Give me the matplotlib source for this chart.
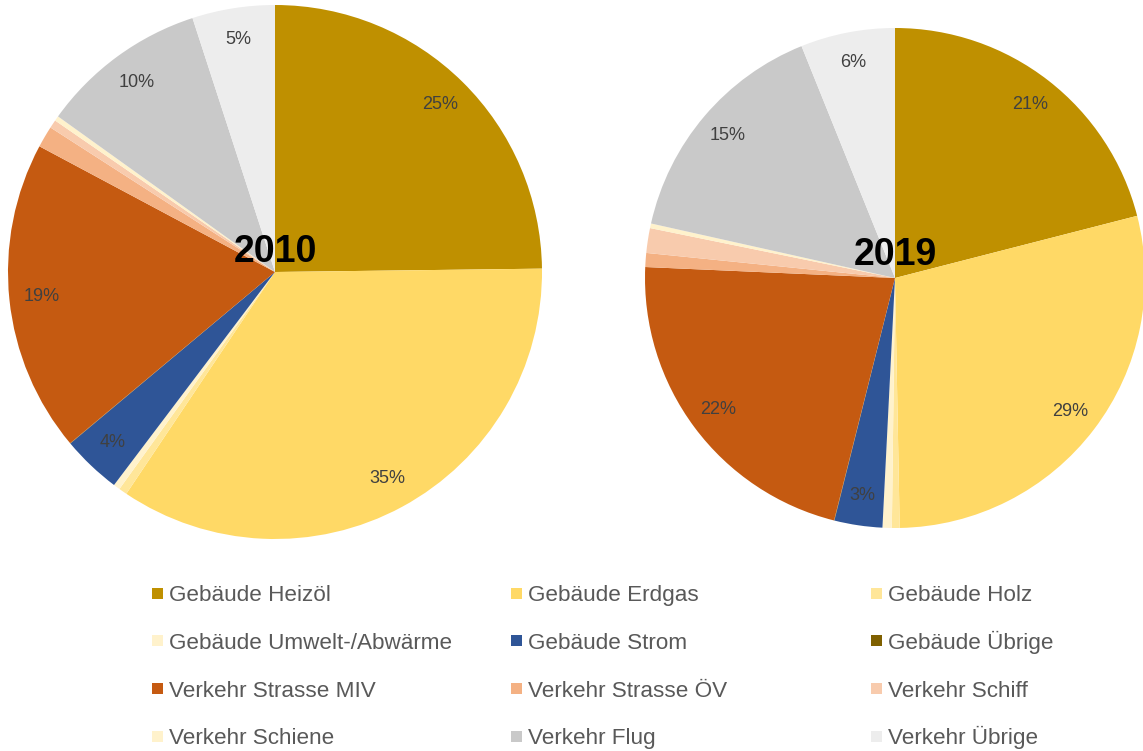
import matplotlib as mpl
import matplotlib.pyplot as plt
from matplotlib.patches import Rectangle

mpl.rcParams['font.family'] = ['Liberation Sans', 'DejaVu Sans']

# Kategorien (Reihenfolge im Uhrzeigersinn ab 12 Uhr)
categories = ['Gebäude Heizöl', 'Gebäude Erdgas', 'Gebäude Holz',
              'Gebäude Umwelt-/Abwärme', 'Gebäude Strom', 'Gebäude Übrige',
              'Verkehr Strasse MIV', 'Verkehr Strasse ÖV', 'Verkehr Schiff',
              'Verkehr Schiene', 'Verkehr Flug', 'Verkehr Übrige']

colors = ['#BF9000', '#FFD966', '#FFE699', '#FFF2CC', '#2F5597', '#7F6000',
          '#C55A11', '#F4B183', '#F8CBAD', '#FFF2CC', '#C9C9C9', '#EDEDED']

# Anteile in %
values_2010 = [24.8, 34.6, 0.5, 0.4, 3.6, 0.02, 18.88, 1.3, 0.5, 0.3, 10.1, 5.0]
values_2019 = [21.0, 28.7, 0.5, 0.6, 3.1, 0.02, 21.78, 0.9, 1.6, 0.3, 15.4, 6.1]

W, H = 1143, 751
fig = plt.figure(figsize=(W / 100, H / 100), dpi=100)


def draw_pie(values, year, cx, cy, r, title_dy):
    # Achse in Pixelkoordinaten (y von oben)
    ax = fig.add_axes([(cx - r) / W, 1 - (cy + r) / H, 2 * r / W, 2 * r / H])
    ax.pie(values, colors=colors, startangle=90, counterclock=False,
           radius=1, wedgeprops=dict(linewidth=0),
           autopct=lambda p: '%d%%' % round(p) if p >= 2.5 else '',
           pctdistance=0.88,
           textprops=dict(color='#404040', fontsize=13))
    ax.set_xlim(-1, 1)
    ax.set_ylim(-1, 1)
    ax.set_aspect('equal')
    ax.axis('off')
    ax.text(0, title_dy, year, ha='center', va='center',
            fontsize=27, fontweight='bold', color='black')


draw_pie(values_2010, '2010', 275, 272, 267, 0.075)
draw_pie(values_2019, '2019', 895, 278, 250, 0.09)

# Legende: 3 Spalten, zeilenweise gefüllt (Positionen in Pixel)
col_x = [152, 511, 871]
row_y0, row_dy = 593, 47.8
box = 11
for i, (name, c) in enumerate(zip(categories, colors)):
    x = col_x[i % 3]
    y = row_y0 + (i // 3) * row_dy
    fig.patches.append(Rectangle((x / W, 1 - (y + box / 2) / H),
                                 box / W, box / H, facecolor=c,
                                 edgecolor='none',
                                 transform=fig.transFigure, figure=fig))
    fig.text((x + box + 6) / W, 1 - (y + 8) / H, name, ha='left',
             va='baseline', fontsize=16.2, color='#595959')

plt.savefig('out.png', dpi=100)
